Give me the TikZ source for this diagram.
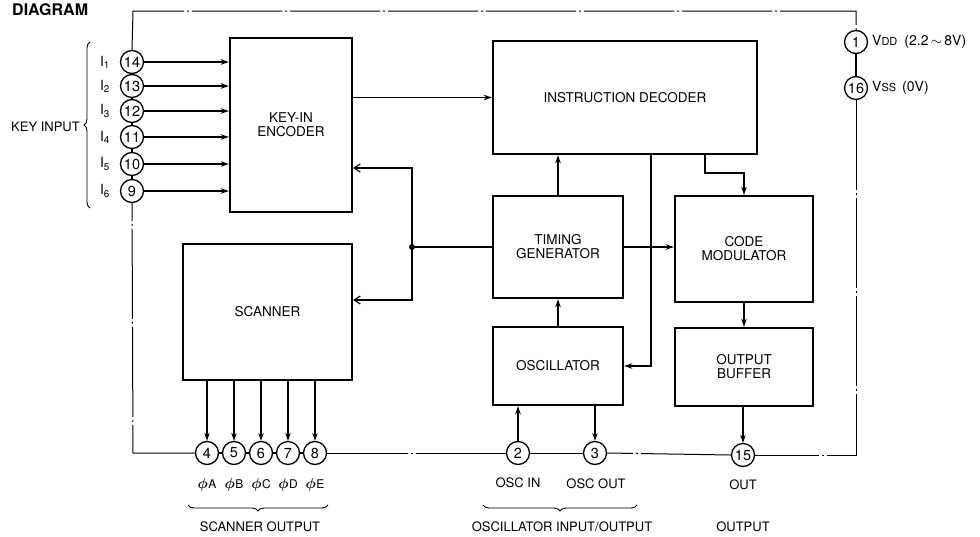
\documentclass[tikz,border=0pt]{standalone}
\usepackage{fontspec}
\setmainfont{TeX Gyre Heros}
\usetikzlibrary{arrows.meta,decorations.pathreplacing}
\begin{document}
\begin{tikzpicture}[x=1pt,y=-1pt,
  blk/.style={draw,line width=2.4pt,rectangle,inner sep=0pt,align=center,font=\fontsize{13.5}{14}\selectfont},
  pinc/.style={draw,circle,line width=1.3pt,minimum size=23pt,inner sep=0pt,font=\fontsize{14.5}{14.5}\selectfont},
  conn/.style={line width=1.2pt},
  arr/.style={conn,-{Stealth[length=8pt,width=5.5pt]}},
  openarr/.style={conn,-{Straight Barb[length=6pt,width=8pt]}},
  frame/.style={line width=1pt,dash pattern=on 90pt off 3pt on 2pt off 3pt},
  lbl/.style={font=\fontsize{13}{14}\selectfont,inner sep=0pt},
  brc/.style={decorate,decoration={brace,amplitude=6pt},line width=0.9pt}
]
\useasboundingbox (0,0) rectangle (980,536);

% title
\node[anchor=base west,inner sep=0pt,font=\bfseries\fontsize{16}{16}\selectfont] (title) at (12,15) {DIAGRAM};

% blocks
\node[blk,minimum width=122pt,minimum height=174pt] (enc) at (291,125) {KEY-IN\\ENCODER};
\node[blk,minimum width=264pt,minimum height=113pt] (dec) at (625,97.5) {INSTRUCTION DECODER};
\node[blk,minimum width=169pt,minimum height=136pt] (scan) at (267.5,312) {SCANNER};
\node[blk,minimum width=130pt,minimum height=102pt] (tim) at (558,247) {TIMING\\GENERATOR};
\node[blk,minimum width=130pt,minimum height=78pt] (osc) at (558,366) {OSCILLATOR};
\node[blk,minimum width=138pt,minimum height=106pt] (cod) at (744,249) {CODE\\MODULATOR};
\node[blk,minimum width=138pt,minimum height=78pt] (buf) at (744,367) {OUTPUT\\BUFFER};

% key input pins
\foreach \n/\y/\i in {14/62/1,13/86/2,12/111/3,11/137/4,10/164/5,9/191/6}{
  \node[pinc] (p\n) at (132,\y) {\n};
  \node[lbl,font=\fontsize{14}{14}\selectfont] (l\n) at (105,\y) {I\textsubscript{\i}};
  \draw[arr] (p\n.east) -- (p\n -| enc.west);
}
\draw[conn] (p14.south) -- (p13.north);
\draw[conn] (p13.south) -- (p12.north);
\draw[conn] (p12.south) -- (p11.north);
\draw[conn] (p11.south) -- (p10.north);
\draw[conn] (p10.south) -- (p9.north);
\draw[brc] (90,208) -- (90,42);
\node[lbl,anchor=east] (keyin) at (80,127) {KEY INPUT};

% scanner pins
\foreach \n/\x/\s in {4/207/A,5/234/B,6/261/C,7/288/D,8/315/E}{
  \node[pinc] (p\n) at (\x,453) {\n};
  \node[lbl] (ph\n) at (\x,485) {{\fontsize{15}{15}\selectfont\boldmath$\phi$}\kern0.5pt{\fontsize{12}{12}\selectfont\s}};
  \draw[arr] (p\n |- scan.south) -- (p\n.north);
}
\draw[conn] (p4.east) -- (p5.west);
\draw[conn] (p5.east) -- (p6.west);
\draw[conn] (p6.east) -- (p7.west);
\draw[conn] (p7.east) -- (p8.west);
\draw[brc] (328,505) -- (188,505);
\node[lbl] (scout) at (260,527) {SCANNER OUTPUT};

% oscillator pins
\node[pinc] (p2) at (518,453) {2};
\node[pinc] (p3) at (595,453) {3};
\node[lbl] (oscin) at (518,483) {OSC IN};
\node[lbl] (oscout) at (596,484) {OSC OUT};
\draw[brc] (637,505) -- (483,505);
\node[lbl] (osciolbl) at (562,527) {OSCILLATOR INPUT/OUTPUT};
\draw[arr] (p2.north) -- (p2 |- osc.south);
\draw[arr] (p3 |- osc.south) -- (p3.north);

% output pin
\node[pinc] (p15) at (743,455) {15};
\node[lbl] (outl) at (743,485) {OUT};
\node[lbl] (outputl) at (743,527) {OUTPUT};
\draw[arr] (buf.south -| p15) -- (p15.north);

% power pins
\node[pinc] (p1) at (856,42) {1};
\node[pinc] (p16) at (856,88) {16};
\draw[conn] (p1.south) -- (p16.north);
\node[lbl,anchor=west,font=\fontsize{14}{14}\selectfont] (vdd) at (872,42) {V{\fontsize{11}{11}\selectfont DD}\hspace{7pt}(2.2\,$\sim$\,8V)};
\node[lbl,anchor=west,font=\fontsize{14}{14}\selectfont] (vss) at (872,88) {V{\fontsize{11}{11}\selectfont SS}\hspace{6pt}(0V)};

% chip frame
\coordinate (c1) at (133,11);
\coordinate (c2) at (856,11);
\coordinate (c3) at (856,455);
\coordinate (c4) at (133,453);
\draw[frame] (p14.north) -- (c1) -- (c2) -- (p1.north);
\draw[frame] (p16.south) -- (c3) -- (p15.east);
\draw[frame] (p15.west) -- (p3.east);
\draw[frame] (p3.west) -- (p2.east);
\draw[frame] (p2.west) -- (p8.east);
\draw[frame] (p4.west) -- (c4) -- (p9.south);

% internal connections
\draw[arr] (enc.east |- dec.west) -- (dec.west);
\coordinate (j) at (412,247);
\coordinate (ja) at (412,168);
\coordinate (jb) at (412,300);
\draw[conn] (tim.west) -- (j);
\draw[openarr] (j) -- (ja) -- (ja -| enc.east);
\draw[openarr] (j) -- (jb) -- (jb -| scan.east);
\fill (j) circle (3pt);
\draw[arr] (tim.north) -- (dec.south -| tim.north);
\draw[arr] (tim.east) -- (tim.east -| cod.west);
\draw[arr] (osc.north) -- (tim.south);
\coordinate (d1) at (651,366);
\draw[arr] (d1 |- dec.south) -- (d1) -- (osc.east);
\coordinate (d2) at (705,173);
\draw[arr] (d2 |- dec.south) -- (d2) -- (d2 -| cod.north) -- (cod.north);
\draw[arr] (cod.south) -- (buf.north);
\end{tikzpicture}
\end{document}
